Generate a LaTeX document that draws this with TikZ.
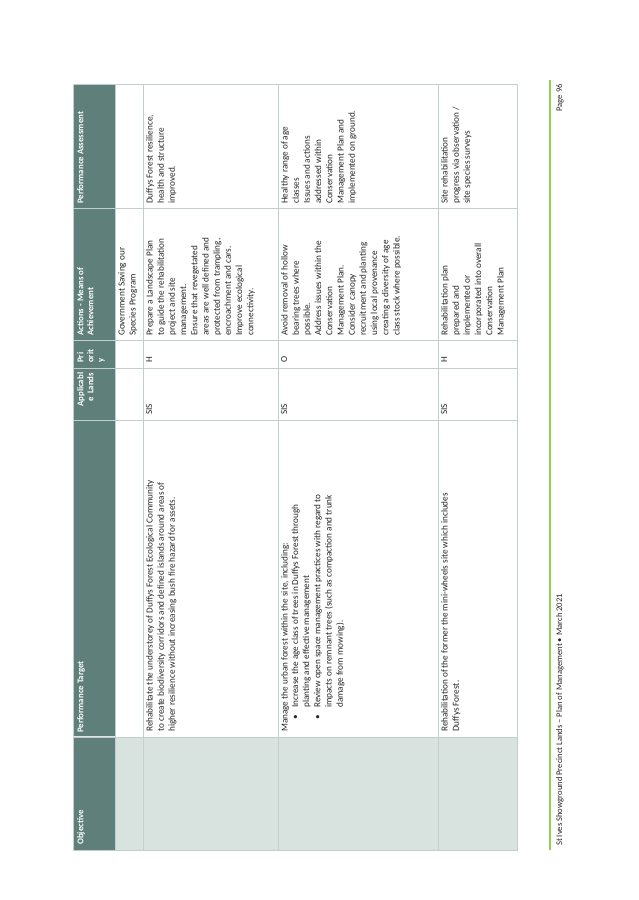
\documentclass[tikz,border=0pt]{standalone}
\usepackage{fontspec}
\setmainfont{Carlito}
\definecolor{hdr}{HTML}{5F7F7A}
\definecolor{objf}{HTML}{D8E2DF}
\definecolor{grid}{HTML}{C3CFCC}
\definecolor{grn}{HTML}{92D050}
\begin{document}
\begin{tikzpicture}[x=1pt,y=1pt,
  cell/.style={rotate=90,anchor=north west,align=left,inner sep=0pt,font=\fontsize{9.2}{11.2}\selectfont,text=black!85},
  head/.style={rotate=90,anchor=north west,align=left,inner sep=0pt,font=\bfseries\fontsize{8.8}{10}\selectfont,text=white},
  foot/.style={rotate=90,anchor=north west,inner sep=0pt,font=\fontsize{8.6}{9}\selectfont,text=black!85}]
\useasboundingbox (0,0) rectangle (638,900);
\fill[white] (0,0) rectangle (638,900);
% fills
\fill[hdr] (73,50) rectangle (115,816);
\fill[objf] (115,50) rectangle (517,163);
% grid
\draw[grid,line width=0.8pt] (73,50) rectangle (517,816);
\foreach \x in {115,143,278,438} \draw[grid,line width=0.8pt] (\x,50) -- (\x,816);
\foreach \y in {163,480,532,560,692} \draw[grid,line width=0.8pt] (73,\y) -- (517,\y);
\draw[white!80!hdr,line width=1pt] (73,163) -- (115,163);
% headers
\node[head] (h1) at (77,55) {Objective};
\node[head] (h2) at (77,167) {Performance Target};
\node[head,align=right,text width=44pt] (h3) at (77,483) {Applicabl\\e Lands};
\node[head] (h4) at (77,537) {Pri\\orit\\y};
\node[head] (h5) at (77,564) {Actions - Means of\\Achievement};
\node[head] (h6) at (77,696) {Performance Assessment};
% row 1
\node[cell] (r1a) at (118,564) {Government Saving our\\Species Program};
% row 2
\node[cell] (r2t) at (146,168) {Rehabilitate the understorey of Duffys Forest Ecological Community\\to create biodiversity corridors and defined islands around areas of\\higher resilience without increasing bush fire hazard for assets.};
\node[cell] (r2l) at (146,485) {SIS};
\node[cell] (r2p) at (146,537) {H};
\node[cell] (r2a) at (146,564) {Prepare a Landscape Plan\\to guide the rehabilitation\\project and site\\management.\\Ensure that revegetated\\areas are well defined and\\protected from trampling,\\encroachment and cars.\\Improve ecological\\connectivity.};
\node[cell] (r2s) at (146,696) {Duffys Forest resilience,\\health and structure\\improved.};
% row 3
\node[cell] (r3t) at (281,168) {Manage the urban forest within the site, including:\\
\begin{tabular}{@{}p{24pt}@{}l@{}}
\hspace{12pt}\textbullet & Increase the age class of trees in Duffys Forest through\\
 & planting and effective management\\
\hspace{12pt}\textbullet & Review open space management practices with regard to\\
 & impacts on remnant trees (such as compaction and trunk\\
 & damage from mowing).
\end{tabular}};
\node[cell] (r3l) at (281,485) {SIS};
\node[cell] (r3p) at (281,537) {O};
\node[cell] (r3a) at (281,564) {Avoid removal of hollow\\bearing trees where\\possible.\\Address issues within the\\Conservation\\Management Plan.\\Consider canopy\\recruitment and planting\\using local provenance\\creating a diversity of age\\class stock where possible.};
\node[cell] (r3s) at (281,696) {Healthy range of age\\classes\\Issues and actions\\addressed within\\Conservation\\Management Plan and\\implemented on ground.};
% row 4
\node[cell] (r4t) at (441,168) {Rehabilitation of the former the mini-wheels site which includes\\Duffys Forest.};
\node[cell] (r4l) at (441,485) {SIS};
\node[cell] (r4p) at (441,537) {H};
\node[cell] (r4a) at (441,564) {Rehabilitation plan\\prepared and\\implemented or\\incorporated into overall\\Conservation\\Management Plan};
\node[cell] (r4s) at (441,696) {Site rehabilitation\\progress via observation /\\site species surveys};
% footer
\draw[grn,line width=1.6pt] (550,50) -- (550,820);
\node[foot] (ft) at (556,54) {St Ives Showground Precinct Lands -- Plan of Management \textbullet{} March 2021};
\node[foot,anchor=north east] (pg) at (556,816) {Page 96};
\end{tikzpicture}
\end{document}
